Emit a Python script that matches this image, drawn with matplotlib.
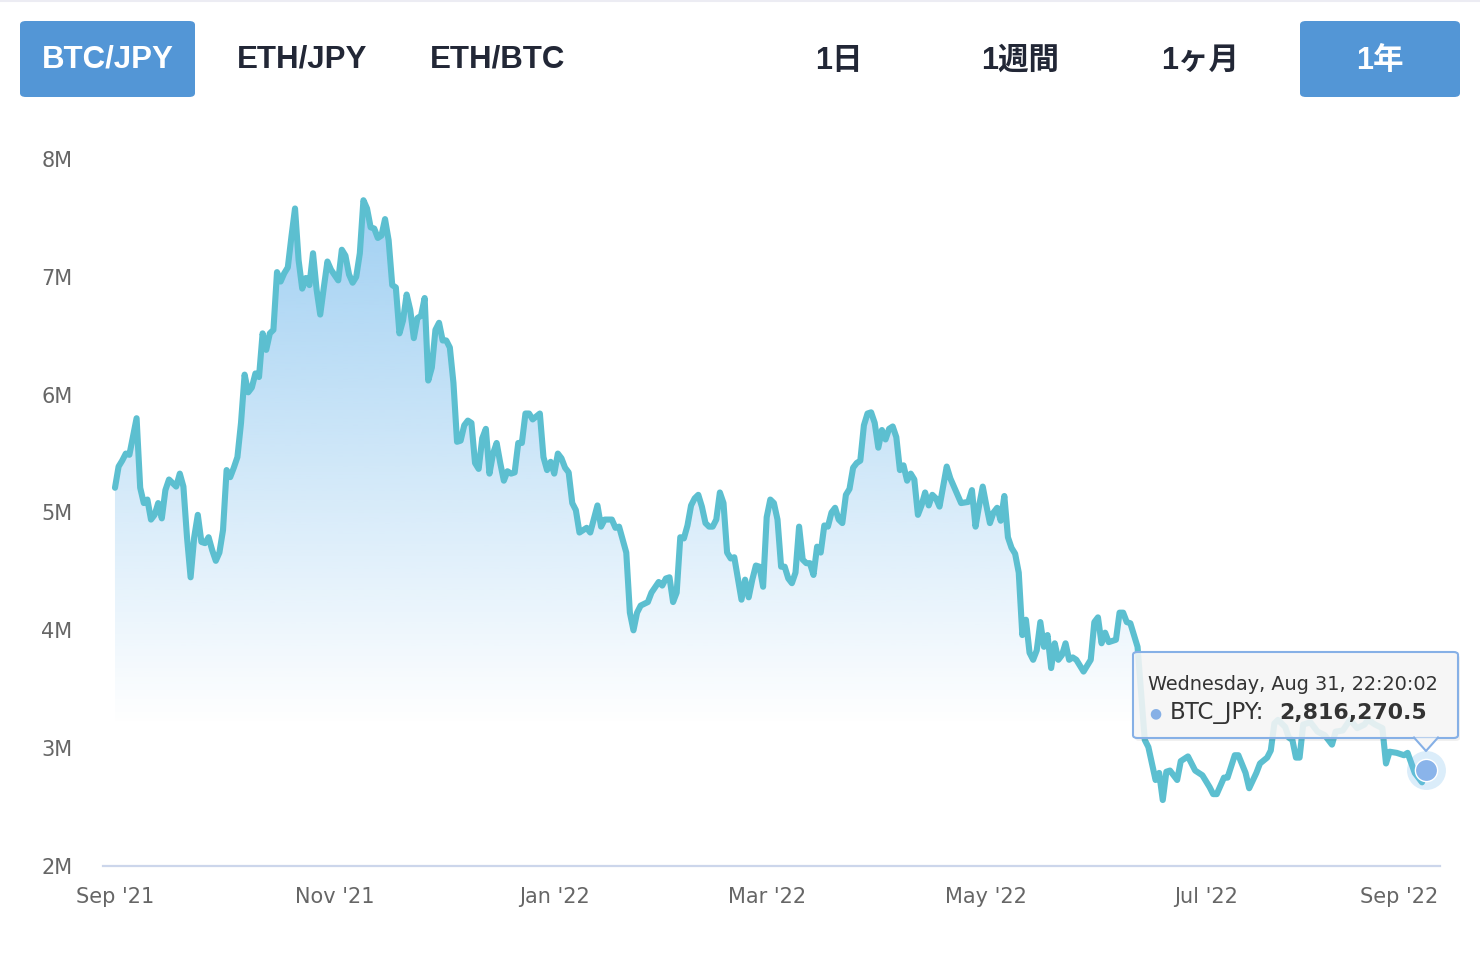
import numpy as np
import pandas as pd
import matplotlib
matplotlib.use("Agg")
import matplotlib.pyplot as plt
import matplotlib.dates as mdates
from matplotlib.patches import FancyBboxPatch, Polygon
from matplotlib.lines import Line2D
from matplotlib.transforms import ScaledTranslation

plt.rcParams['font.family'] = ['Liberation Sans', 'Noto Sans CJK JP', 'DejaVu Sans']

# BTC/JPY closing price (millions of JPY)
start_date = "2021-09-01"
day_offsets = [
    0, 1, 2, 3, 4, 6, 7, 8, 9, 10, 11, 12, 13, 14, 15, 16, 17, 18, 19, 20,
    21, 22, 23, 24, 25, 26, 27, 28, 29, 30, 31, 32, 33, 34, 35, 36, 37, 38, 39, 40,
    41, 42, 43, 44, 45, 46, 47, 48, 49, 50, 51, 52, 53, 54, 55, 56, 57, 58, 59, 60,
    62, 63, 64, 65, 66, 67, 68, 69, 70, 71, 72, 73, 74, 75, 76, 77, 78, 79, 80, 81,
    82, 83, 84, 85, 86, 87, 88, 89, 90, 91, 92, 93, 94, 95, 96, 97, 98, 99, 100, 101,
    102, 103, 104, 105, 106, 107, 108, 109, 110, 111, 112, 113, 114, 115, 116, 118, 119, 120, 121, 122,
    123, 124, 125, 126, 127, 128, 129, 130, 131, 132, 134, 135, 136, 138, 139, 140, 141, 142, 143, 144,
    145, 146, 148, 149, 151, 152, 153, 154, 155, 156, 157, 158, 159, 160, 161, 162, 163, 164, 165, 166,
    167, 168, 169, 170, 171, 172, 173, 174, 175, 176, 177, 178, 179, 180, 181, 182, 183, 184, 185, 186,
    187, 188, 189, 190, 191, 192, 193, 194, 195, 196, 197, 198, 199, 200, 201, 202, 203, 204, 205, 206,
    207, 208, 209, 210, 211, 212, 213, 214, 215, 216, 217, 218, 219, 220, 221, 222, 223, 224, 225, 226,
    227, 228, 229, 231, 232, 234, 235, 237, 238, 239, 240, 241, 242, 243, 244, 245, 246, 247, 248, 249,
    250, 251, 252, 253, 254, 255, 256, 257, 258, 259, 260, 261, 262, 263, 264, 265, 266, 267, 269, 271,
    272, 273, 274, 275, 276, 278, 279, 280, 281, 282, 284, 286, 287, 289, 290, 291, 292, 293, 295, 296,
    298, 300, 302, 304, 305, 306, 308, 309, 311, 312, 314, 315, 317, 318, 320, 321, 322, 323, 325, 326,
    327, 328, 329, 330, 332, 333, 334, 336, 338, 339, 341, 343, 345, 347, 348, 350, 352, 353, 354, 356,
    358, 359, 361, 363, 364,
]
price_m = [
    5.21, 5.39, 5.44, 5.50, 5.49, 5.80, 5.21, 5.08, 5.11, 4.94, 4.98, 5.08, 4.95, 5.19, 5.28, 5.25, 5.22, 5.33, 5.22, 4.79,
    4.45, 4.79, 4.98, 4.75, 4.74, 4.79, 4.68, 4.59, 4.66, 4.85, 5.36, 5.30, 5.38, 5.47, 5.76, 6.17, 6.02, 6.06, 6.18, 6.15,
    6.52, 6.38, 6.52, 6.55, 7.04, 6.96, 7.03, 7.08, 7.34, 7.58, 7.14, 6.90, 6.99, 6.93, 7.20, 6.89, 6.68, 6.91, 7.13, 7.06,
    6.97, 7.23, 7.18, 7.02, 6.95, 7.00, 7.20, 7.65, 7.58, 7.42, 7.41, 7.33, 7.35, 7.49, 7.31, 6.93, 6.91, 6.52, 6.63, 6.85,
    6.72, 6.48, 6.65, 6.67, 6.82, 6.12, 6.23, 6.55, 6.61, 6.46, 6.46, 6.40, 6.10, 5.60, 5.61, 5.74, 5.78, 5.76, 5.42, 5.37,
    5.63, 5.71, 5.33, 5.50, 5.59, 5.42, 5.27, 5.35, 5.33, 5.34, 5.59, 5.59, 5.84, 5.84, 5.79, 5.84, 5.47, 5.36, 5.43, 5.33,
    5.50, 5.46, 5.38, 5.34, 5.08, 5.02, 4.83, 4.85, 4.87, 4.83, 5.06, 4.88, 4.94, 4.94, 4.87, 4.88, 4.77, 4.66, 4.15, 4.00,
    4.15, 4.21, 4.24, 4.32, 4.41, 4.38, 4.44, 4.45, 4.24, 4.32, 4.79, 4.78, 4.89, 5.06, 5.12, 5.15, 5.05, 4.91, 4.88, 4.88,
    4.94, 5.17, 5.08, 4.66, 4.61, 4.62, 4.44, 4.26, 4.43, 4.28, 4.43, 4.55, 4.54, 4.37, 4.96, 5.11, 5.08, 4.94, 4.54, 4.54,
    4.44, 4.40, 4.49, 4.88, 4.60, 4.57, 4.57, 4.47, 4.71, 4.66, 4.89, 4.88, 5.00, 5.04, 4.94, 4.91, 5.15, 5.20, 5.38, 5.42,
    5.44, 5.74, 5.84, 5.85, 5.76, 5.55, 5.70, 5.62, 5.71, 5.73, 5.64, 5.36, 5.40, 5.27, 5.33, 5.28, 4.98, 5.06, 5.17, 5.06,
    5.15, 5.12, 5.05, 5.39, 5.29, 5.15, 5.08, 5.09, 5.19, 4.88, 5.06, 5.22, 5.06, 4.91, 5.00, 5.04, 4.93, 5.14, 4.79, 4.70,
    4.65, 4.49, 3.96, 4.09, 3.81, 3.75, 3.83, 4.07, 3.86, 3.96, 3.68, 3.89, 3.75, 3.79, 3.89, 3.75, 3.77, 3.75, 3.65, 3.75,
    4.07, 4.11, 3.89, 3.98, 3.90, 3.92, 4.15, 4.15, 4.07, 4.06, 3.86, 3.07, 3.01, 2.73, 2.79, 2.56, 2.80, 2.81, 2.73, 2.89,
    2.93, 2.81, 2.77, 2.67, 2.61, 2.61, 2.75, 2.75, 2.94, 2.94, 2.79, 2.66, 2.79, 2.87, 2.92, 2.98, 3.21, 3.24, 3.18, 3.09,
    3.07, 2.92, 2.92, 3.20, 3.22, 3.18, 3.14, 3.11, 3.03, 3.14, 3.15, 3.24, 3.17, 3.20, 3.24, 3.20, 3.17, 2.87, 2.97, 2.96,
    2.94, 2.96, 2.79, 2.71, 2.816,
]
y_ticks = [2, 3, 4, 5, 6, 7, 8]
x_tick_dates = ["2021-09-01", "2021-11-01", "2022-01-01", "2022-03-01",
                "2022-05-01", "2022-07-01", "2022-09-01"]
pair_buttons = ["BTC/JPY", "ETH/JPY", "ETH/BTC"]
range_buttons = ["1日", "1週間", "1ヶ月", "1年"]
tooltip_date = "Wednesday, Aug 31, 22:20:02"
tooltip_series = "BTC_JPY:"
tooltip_value = "2,816,270.5"

W, H = 1480, 956
line_color = "#5cbfd0"
fill_rgb = np.array([112, 184, 236]) / 255.0
button_blue = "#5396d6"
dark_text = "#222736"

dates = pd.Timestamp(start_date) + pd.to_timedelta(day_offsets, unit="D")
xnum = mdates.date2num(dates)
price = np.array(price_m)

fig = plt.figure(figsize=(W / 100, H / 100), dpi=100)


def fx(px):
    return px / W


def fy(py):
    return 1 - py / H


ax = fig.add_axes([fx(103), fy(866), (1440 - 103) / W, (866 - 159) / H])
x0 = xnum[0] - 3.33
x1 = xnum[0] + 368.0
ax.set_xlim(x0, x1)
ax.set_ylim(2, 8)

# gradient area under the line
poly = ax.fill_between(xnum, price, 2.0, facecolor="none", edgecolor="none")
vals = np.linspace(8, 2, 400)
grad = np.zeros((400, 1, 4))
grad[..., :3] = fill_rgb
grad[..., 3] = (np.clip((vals - 3.2) / (7.65 - 3.2), 0, 1) * 0.66)[:, None]
im = ax.imshow(grad, extent=[x0, x1, 2, 8], aspect="auto", origin="upper",
               zorder=1, interpolation="bilinear")
im.set_clip_path(poly.get_paths()[0], ax.transData)

ax.plot(xnum, price, color=line_color, lw=4.4, solid_joinstyle="round",
        solid_capstyle="round", zorder=3)

# hover marker on the last point
ax.plot(xnum[-1], price[-1], "o", ms=28, color=fill_rgb, alpha=0.25,
        mec="none", zorder=4, clip_on=False)
ax.plot(xnum[-1], price[-1], "o", ms=16, color="#8ab4ea", mec="white",
        mew=1.0, zorder=5, clip_on=False)

for s in ["top", "right", "left"]:
    ax.spines[s].set_visible(False)
ax.spines["bottom"].set_color("#ccd6eb")
ax.spines["bottom"].set_linewidth(1.6)
ax.set_facecolor("none")

ax.set_yticks(y_ticks)
ax.set_yticklabels([f"{v}M" for v in y_ticks])
ax.set_xticks(mdates.date2num(pd.to_datetime(x_tick_dates)))
ax.xaxis.set_major_formatter(mdates.DateFormatter("%b '%y"))
ax.tick_params(axis="both", length=0, labelcolor="#666666", labelsize=15)
ax.tick_params(axis="y", pad=22)
ax.tick_params(axis="x", pad=15)
for lab in ax.get_xticklabels() + ax.get_yticklabels():
    lab.set_fontfamily("DejaVu Sans")
last = ax.get_xticklabels()[-1]
last.set_horizontalalignment("right")
last.set_transform(last.get_transform() + ScaledTranslation(0.09, 0, fig.dpi_scale_trans))

# top border
fig.add_artist(Line2D([0, 1], [fy(1), fy(1)], color="#ececf3", lw=1.5))

# buttons
for (l, r) in [(20, 195), (1300, 1460)]:
    fig.add_artist(FancyBboxPatch((fx(l), fy(97)), fx(r - l), (97 - 21) / H,
                                  boxstyle="round,pad=0,rounding_size=0.004",
                                  fc=button_blue, ec="none",
                                  transform=fig.transFigure))
pair_x = [108, 302, 498]
for i, (lab, cx) in enumerate(zip(pair_buttons, pair_x)):
    fig.text(fx(cx), fy(60), lab, ha="center", va="center", fontsize=22.5,
             fontweight="bold", color="white" if i == 0 else dark_text)
range_x = [839, 1020, 1200, 1380]
for i, (lab, cx) in enumerate(zip(range_buttons, range_x)):
    fig.text(fx(cx), fy(61), lab, ha="center", va="center", fontsize=22,
             fontweight="bold", color="white" if i == 3 else dark_text)

# tooltip
tb_l, tb_t, tb_r, tb_b = 1133, 652, 1458, 738
fig.add_artist(FancyBboxPatch((fx(tb_l + 2), fy(tb_b + 3)), fx(tb_r - tb_l), (tb_b - tb_t) / H,
                              boxstyle="round,pad=0,rounding_size=0.003",
                              fc="black", ec="none", alpha=0.06,
                              transform=fig.transFigure, zorder=9))
fig.add_artist(FancyBboxPatch((fx(tb_l), fy(tb_b)), fx(tb_r - tb_l), (tb_b - tb_t) / H,
                              boxstyle="round,pad=0,rounding_size=0.003",
                              fc=(0.97, 0.97, 0.97, 0.88), ec="#86b0e6", lw=1.5,
                              transform=fig.transFigure, zorder=10))
tri = [(fx(1414), fy(tb_b - 0.5)), (fx(1426), fy(751)), (fx(1438), fy(tb_b - 0.5))]
fig.add_artist(Polygon(tri, closed=False, fc=(0.97, 0.97, 0.97, 0.88), ec="none",
                       transform=fig.transFigure, zorder=10))
fig.add_artist(Line2D([t[0] for t in tri], [t[1] for t in tri], color="#86b0e6",
                      lw=1.5, transform=fig.transFigure, zorder=11))
fig.text(fx(1148), fy(684), tooltip_date, ha="left", va="center", fontsize=13.9,
         color="#333333", family="DejaVu Sans", zorder=12)
fig.text(fx(1155), fy(713), "●", ha="center", va="center", fontsize=10,
         color="#86b0e6", family="DejaVu Sans", zorder=12)
fig.text(fx(1170), fy(713), tooltip_series, ha="left", va="center", fontsize=16.5,
         color="#333333", family="DejaVu Sans", zorder=12)
fig.text(fx(1279), fy(713), tooltip_value, ha="left", va="center", fontsize=15.8,
         color="#333333", family="DejaVu Sans", fontweight="bold", zorder=12)

fig.savefig("out.png", dpi=100)
